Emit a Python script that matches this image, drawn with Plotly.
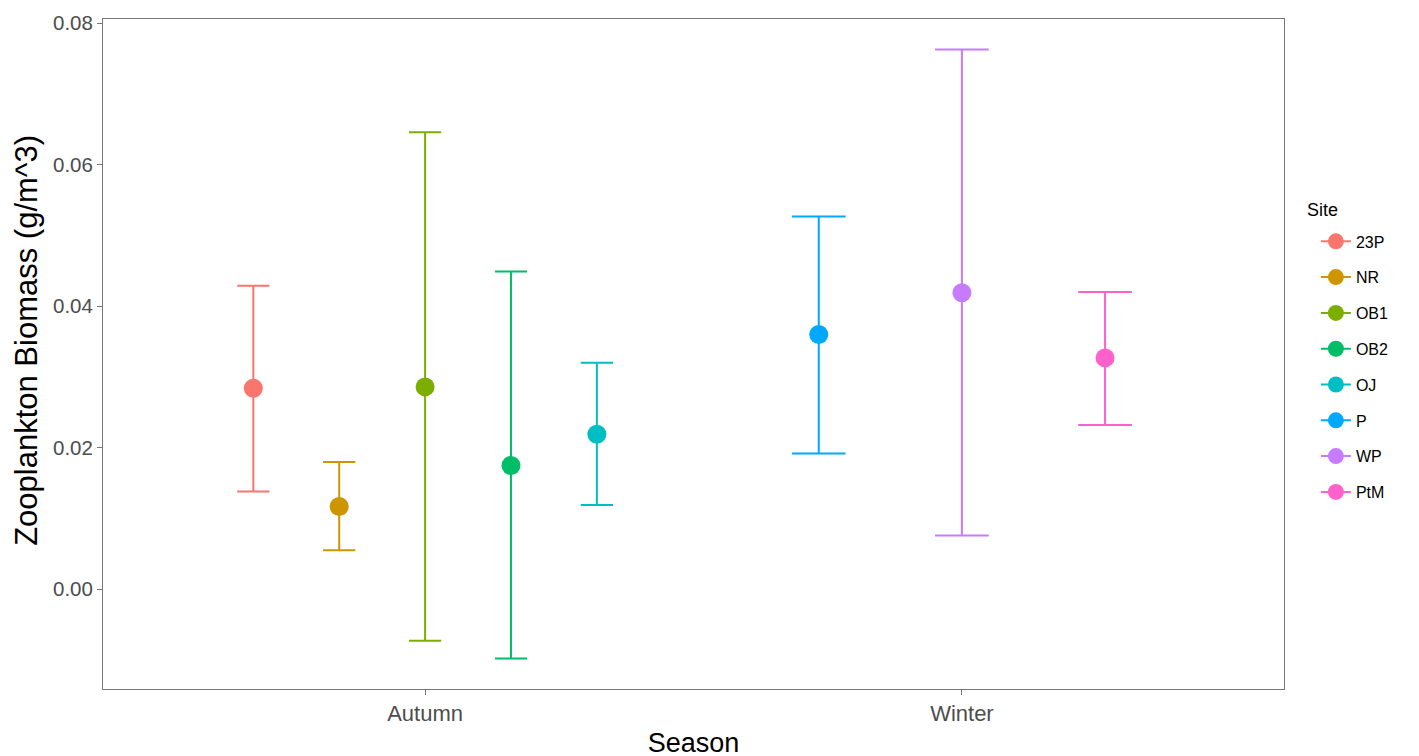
import plotly.graph_objects as go

# ---- data ----
sites = ["23P", "NR", "OB1", "OB2", "OJ", "P", "WP", "PtM"]
seasons = ["Autumn", "Autumn", "Autumn", "Autumn", "Autumn", "Winter", "Winter", "Winter"]
means = [0.0284, 0.0117, 0.0286, 0.0175, 0.0219, 0.0360, 0.0419, 0.0327]
lower = [0.0138, 0.0055, -0.0073, -0.0098, 0.0119, 0.0192, 0.0076, 0.0232]
upper = [0.0429, 0.0180, 0.0646, 0.0449, 0.0320, 0.0527, 0.0763, 0.0420]
season_labels = ["Autumn", "Winter"]
y_ticks = [0.0, 0.02, 0.04, 0.06, 0.08]
y_ticklabels = ["0.00", "0.02", "0.04", "0.06", "0.08"]
colors = ["#F8766D", "#CD9600", "#7CAE00", "#00BE67", "#00BFC4", "#00A9FF", "#C77CFF", "#FF61CC"]

FONT = "Liberation Sans, Arial, Helvetica, sans-serif"
DODGE = 0.8
CAP_UNITS = 0.3
PX_PER_UNIT = 1181 / 2.2

fig = go.Figure()
for season_idx, season in enumerate(season_labels, start=1):
    idxs = [i for i, s in enumerate(seasons) if s == season]
    n = len(idxs)
    for k, i in enumerate(idxs):
        x = season_idx - DODGE / 2 + DODGE * (k + 0.5) / n
        fig.add_trace(go.Scatter(
            x=[x], y=[means[i]],
            mode="lines+markers",
            name=sites[i],
            legendgroup=sites[i],
            marker=dict(color=colors[i], size=19),
            line=dict(color=colors[i], width=2),
            error_y=dict(
                type="data", symmetric=False,
                array=[upper[i] - means[i]],
                arrayminus=[means[i] - lower[i]],
                color=colors[i], thickness=2,
                width=CAP_UNITS / n * PX_PER_UNIT / 2,
            ),
        ))

rng = max(upper) - min(lower)
ymin = min(lower) - 0.05 * rng
ymax = max(upper) + 0.05 * rng

fig.update_layout(
    width=1419, height=756,
    margin=dict(l=95, r=143, t=11, b=75),
    paper_bgcolor="white", plot_bgcolor="white",
    font=dict(family=FONT, color="#000000"),
    xaxis=dict(
        range=[0.4, 2.6], tickvals=[1, 2], ticktext=season_labels,
        showgrid=False, zeroline=False, automargin=False,
        showline=True, mirror=True, linecolor="#777777", linewidth=1,
        ticks="outside", ticklen=5, tickcolor="#777777",
        tickfont=dict(size=22, color="#4D4D4D", family=FONT),
        title=dict(text="Season", font=dict(size=27, color="#000000", family=FONT), standoff=7),
    ),
    yaxis=dict(
        range=[ymin, ymax], tickvals=y_ticks, ticktext=y_ticklabels,
        showgrid=False, zeroline=False, automargin=False,
        showline=True, mirror=True, linecolor="#777777", linewidth=1,
        ticks="outside", ticklen=5, tickcolor="#777777",
        tickfont=dict(size=20.5, color="#4D4D4D", family=FONT),
    ),
    legend=dict(
        font=dict(size=16, family=FONT, color="#000000"),
        x=1.027, xanchor="left", y=0.6934, yanchor="top",
        tracegroupgap=12, bgcolor="rgba(0,0,0,0)",
    ),
    annotations=[
        dict(
            text="Site", xref="paper", yref="paper", x=1.0175, y=0.715,
            xanchor="left", yanchor="middle", showarrow=False,
            font=dict(size=18, family=FONT, color="#000000"),
        ),
        dict(
            text="Zooplankton Biomass (g/m^3)", xref="paper", yref="paper",
            x=-0.0644, y=0.521, xanchor="center", yanchor="middle",
            textangle=-90, showarrow=False,
            font=dict(size=31, family=FONT, color="#000000"),
        ),
    ],
    showlegend=True,
)

fig.write_html("out.html")
